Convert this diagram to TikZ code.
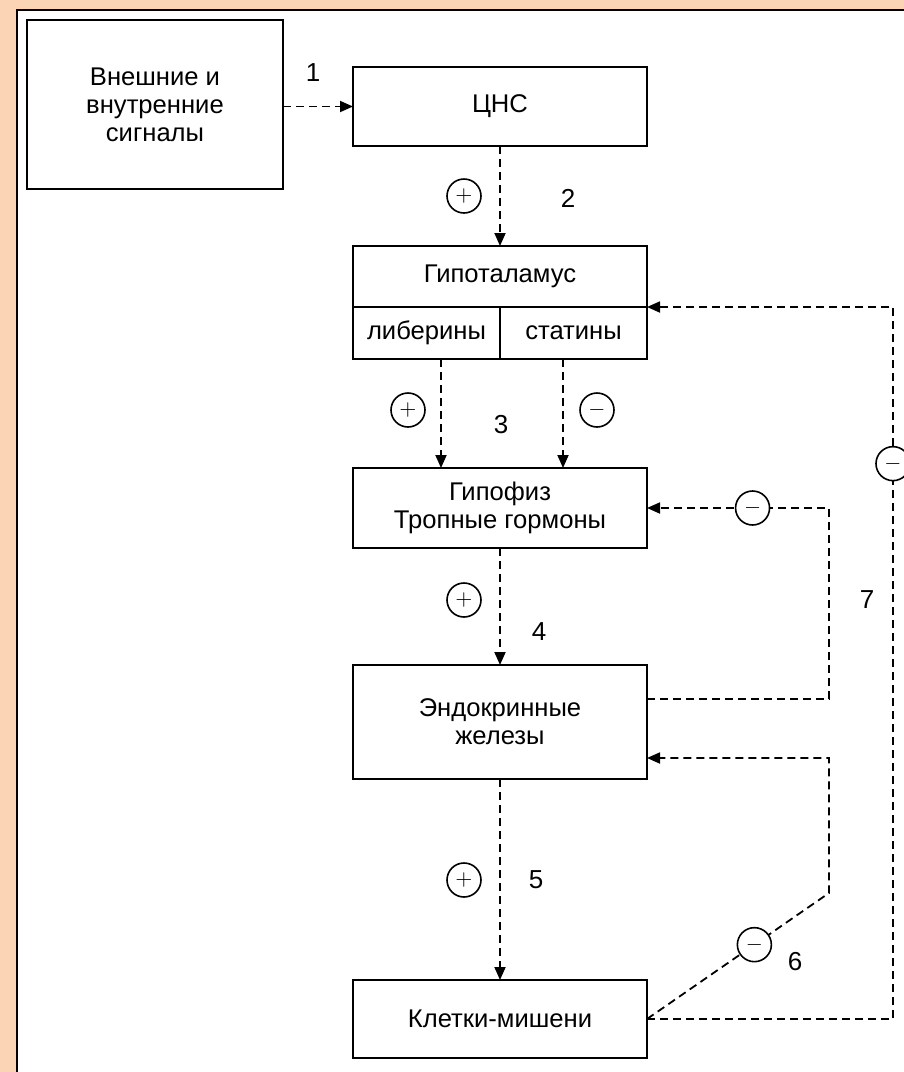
\documentclass[tikz,border=0pt]{standalone}
\usepackage{fontspec}
\setmainfont{Liberation Sans}
\usepackage{xcolor}
\usepackage{tikz}
\usetikzlibrary{arrows.meta, positioning, calc}
\definecolor{peach}{RGB}{251,212,182}
\tikzset{
    box/.style={rectangle, draw, line width=1pt, fill=white, minimum width=147pt, inner sep=0pt, outer sep=0pt, align=center, font=\fontsize{12.8}{14}\selectfont},
    cell/.style={rectangle, draw, line width=1pt, minimum width=73.5pt, minimum height=26pt, inner sep=0pt, outer sep=0pt, font=\fontsize{12.8}{14}\selectfont},
    sign/.style={circle, draw, solid, line width=0.8pt, fill=white, minimum size=17pt, inner sep=0pt, font=\fontsize{11}{11}\selectfont},
    num/.style={font=\fontsize{13}{14}\selectfont},
    arrow/.style={-{Triangle[length=6.5pt, width=5.5pt]}, dash pattern=on 4pt off 2.5pt, line width=0.9pt}
}

\begin{document}
\begin{tikzpicture}[x=0.5pt, y=-0.5pt]
    \useasboundingbox (0,0) rectangle (904,1072);
    \fill[peach] (0,0) rectangle (904,1072);
    \fill[white] (17,10) rectangle (904,1072);
    \draw[line width=1pt] (17,1072) -- (17,10) -- (904,10);

    \node[box, minimum width=128pt, minimum height=84.5pt] (sig) at (155,104.5) {Внешние и\\внутренние\\сигналы};
    \node[box, minimum height=39.5pt] (cns) at (500,106.5) {ЦНС};
    \node[box, minimum height=30.5pt] (hyp) at (500,276.5) {Гипоталамус};
    \node[cell, anchor=north west] (lib) at (hyp.south west) {либерины};
    \node[cell, anchor=north east] (stat) at (hyp.south east) {статины};
    \node[box, minimum height=40pt] (gip) at (500,508) {Гипофиз\\Тропные гормоны};
    \node[box, minimum height=57pt] (endo) at (500,722) {Эндокринные\\железы};
    \node[box, minimum height=39pt] (cells) at (500,1019) {Клетки-мишени};

    \coordinate (r4) at (829,600);
    \coordinate (r6) at (829,893);
    \coordinate (r7) at (893,307);

    \draw[arrow] (sig.east |- cns.west) -- (cns.west);
    \draw[arrow] (cns) -- (hyp);
    \draw[arrow] ([xshift=7.25pt]lib.south) -- ([xshift=7.25pt]lib.south |- gip.north);
    \draw[arrow] ([xshift=-5.25pt]stat.south) -- ([xshift=-5.25pt]stat.south |- gip.north);
    \draw[arrow] (gip) -- (endo);
    \draw[arrow] (endo) -- (cells);

    % feedback loops
    \draw[arrow] ([yshift=11.5pt]endo.east) -| (r4) |- node[sign, pos=0.71] (m4) {$-$} (gip.east);
    \draw[arrow] (cells.east) -- node[sign, pos=0.59] (m6) {$-$} (r6) |- ([yshift=-18pt]endo.east);
    \draw[arrow] (cells.east) -| node[sign, pos=0.89] (m7) {$-$} (r7) -- (hyp.south east);

    \node[sign] (p2) at (464,196) {$+$};
    \node[sign] (p3) at (408,410) {$+$};
    \node[sign] (m3) at (597,410) {$-$};
    \node[sign] (p4) at (464,600) {$+$};
    \node[sign] (p5) at (464,880) {$+$};

    \node[num] (n1) at (313,73) {1};
    \node[num] (n2) at (568,198) {2};
    \node[num] (n3) at (501,425) {3};
    \node[num] (n4) at (539,632) {4};
    \node[num] (n5) at (536,880) {5};
    \node[num] (n6) at (795,962) {6};
    \node[num] (n7) at (867,600) {7};
\end{tikzpicture}
\end{document}
